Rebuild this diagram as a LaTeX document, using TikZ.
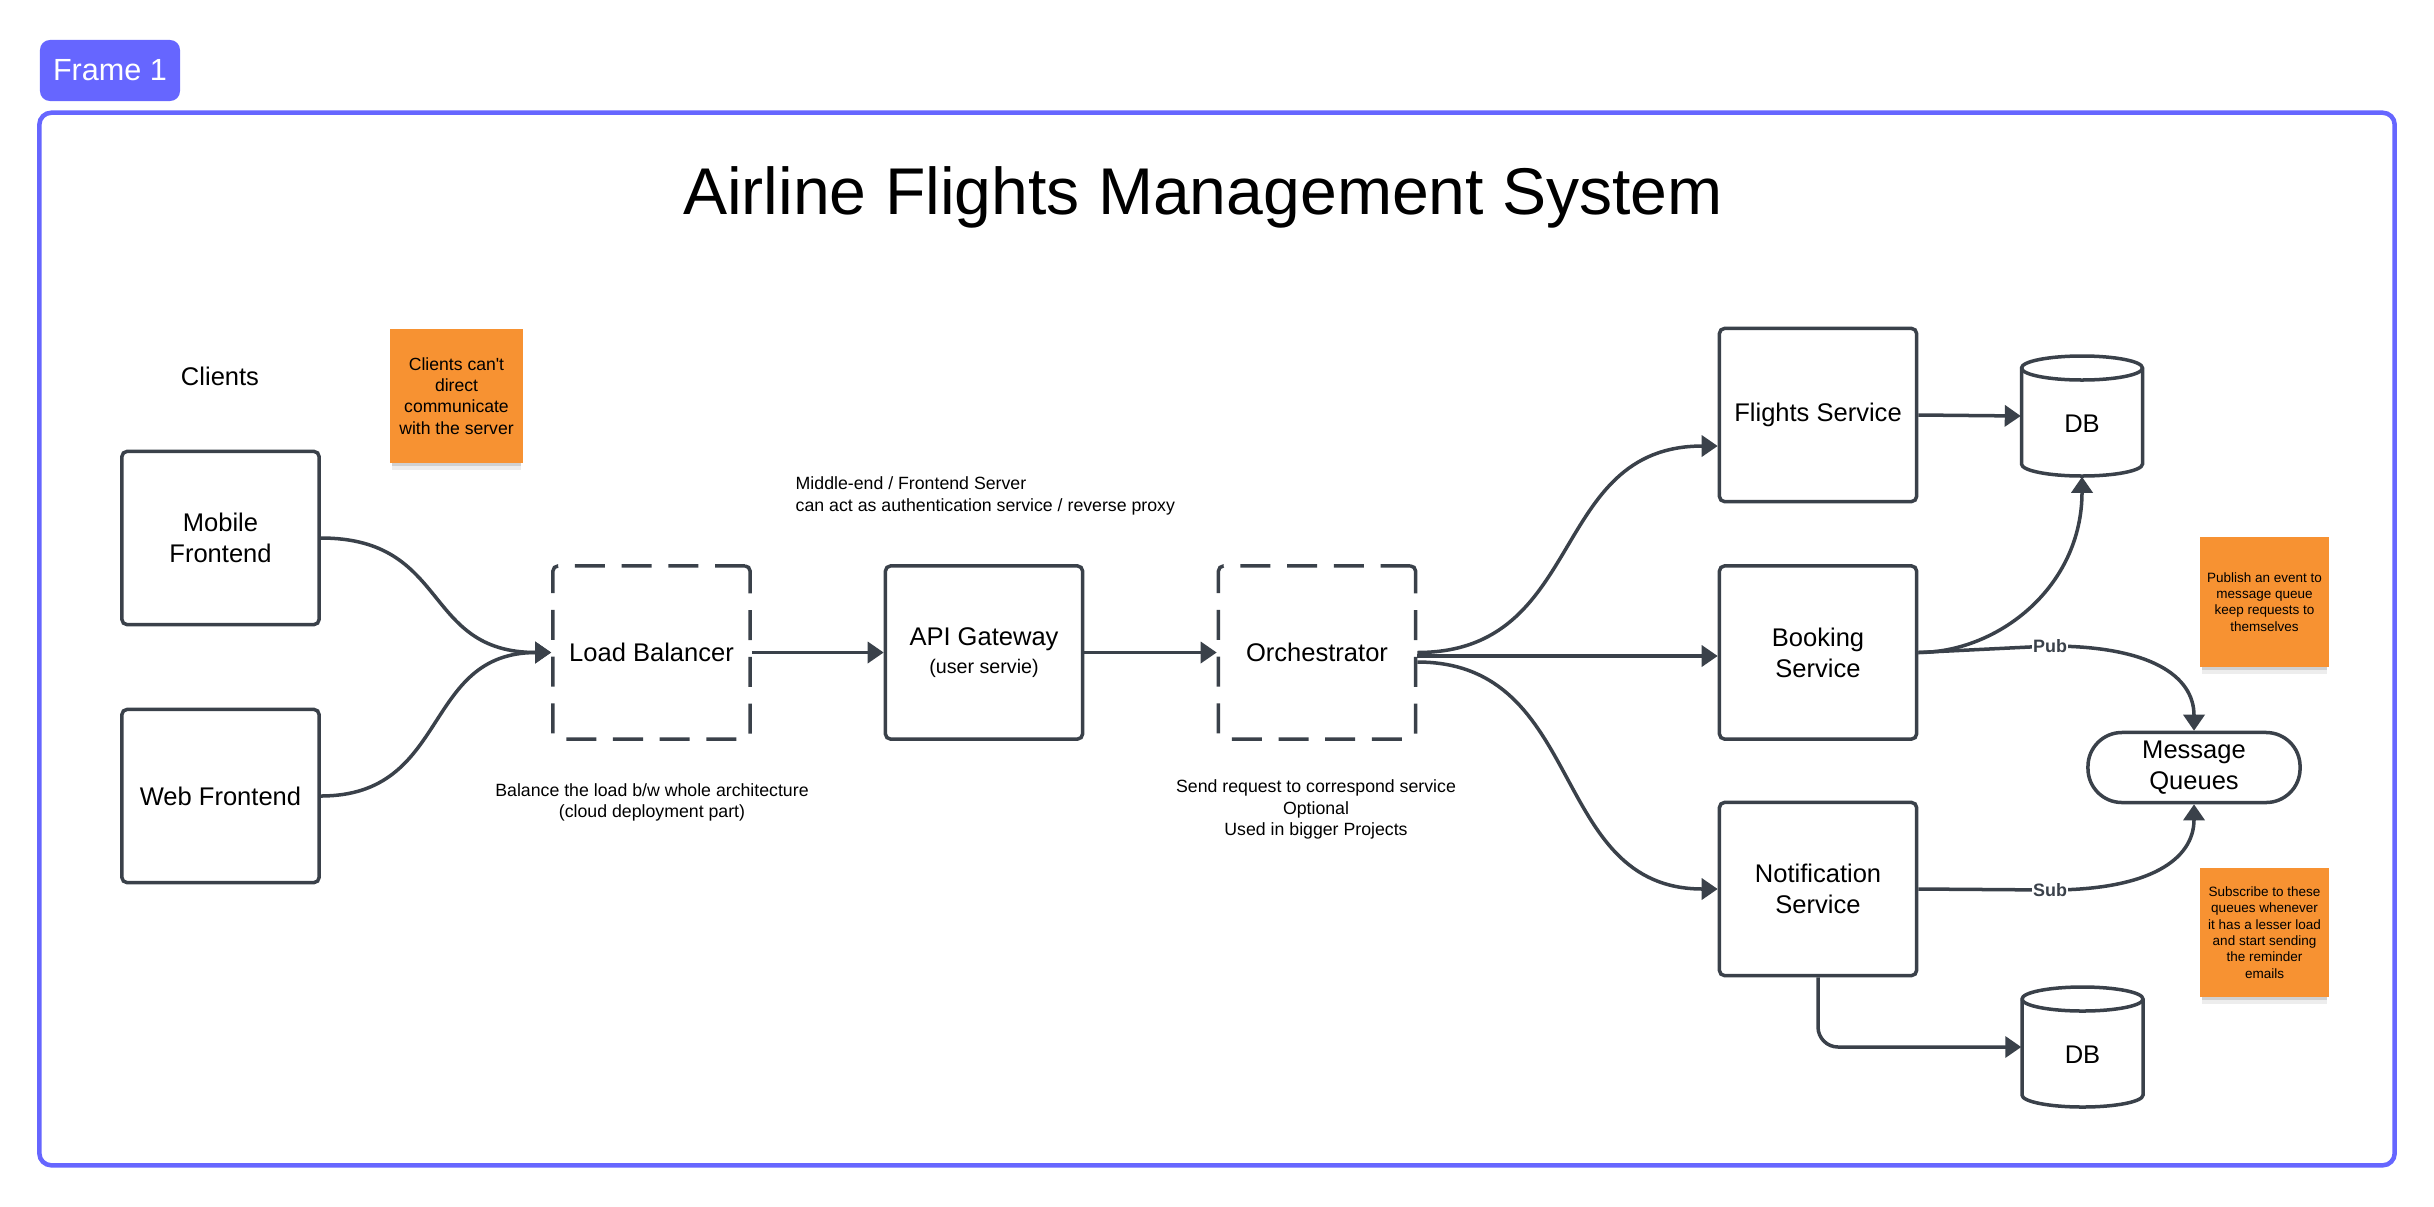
\documentclass[tikz,border=0pt]{standalone}
\usepackage{fontspec}
\setmainfont{Liberation Sans}
\usetikzlibrary{arrows.meta,shadows,calc}
\definecolor{lc}{HTML}{3A414A}
\definecolor{framec}{HTML}{6666FF}
\definecolor{stickyc}{HTML}{F79232}
\newcommand\FMain{\fontsize{7.26}{8.82}\selectfont}
\newcommand\FTitle{\fontsize{18.8}{22}\selectfont}
\newcommand\FFrame{\fontsize{8.7}{10}\selectfont}
\newcommand\FSmall{\fontsize{5.04}{6.12}\selectfont}
\newcommand\FUser{\fontsize{5.6}{6.5}\selectfont}
\newcommand\FStickA{\fontsize{5.0}{6.06}\selectfont}
\newcommand\FStickB{\fontsize{3.84}{4.64}\selectfont}
\newcommand\FLbl{\fontsize{5.1}{5.8}\selectfont\bfseries}
\newcommand\DrawCyl[2]{%
  \draw[ln, fill=white] ({#1-60.5},{-#2+48}) -- ({#1-60.5},{-#2-48})
    arc[start angle=180,end angle=360,x radius=60.5,y radius=12]
    -- ({#1+60.5},{-#2+48})
    arc[start angle=0,end angle=180,x radius=60.5,y radius=12] -- cycle;
  \draw[ln] ({#1-60.5},{-#2+48}) arc[start angle=180,end angle=360,x radius=60.5,y radius=12];}
\begin{document}
\begin{tikzpicture}[x=0.01cm,y=0.01cm,
  ln/.style={draw=lc, line width=0.035cm},
  box/.style={ln, rounded corners=0.05cm, minimum width=1.97cm, minimum height=1.73cm,
    align=center, font=\FMain, inner sep=0pt},
  dbox/.style={box, dash pattern=on 0.3cm off 0.167cm},
  arr/.style={draw=lc, line width=0.035cm, -{Triangle[length=0.16cm,width=0.21cm]}},
  dbshape/.style={minimum width=1.21cm, minimum height=1.2cm, inner sep=0pt},
  mqbox/.style={ln, rounded corners=0.34cm, minimum width=2.12cm, minimum height=0.7cm,
    align=center, font=\FMain, inner sep=0pt},
  sticky/.style={fill=stickyc, align=center, inner sep=0pt,
    general shadow={fill=black, opacity=0.07, shadow yshift=-0.09cm, shadow scale=0.97},
    general shadow={fill=black, opacity=0.12, shadow yshift=-0.05cm, shadow scale=0.97}},
  lbl/.style={fill=white, inner sep=0.01cm, font=\FLbl, text=lc},
  small/.style={font=\FSmall, inner sep=0pt}
]
\useasboundingbox (0,0) rectangle (2434,-1206);

% frame
\node[draw=framec, line width=0.045cm, rounded corners=0.12cm, minimum width=23.54cm,
  minimum height=10.52cm, inner sep=0pt] (frame) at (1217,-639) {};
\node[fill=framec, rounded corners=0.1cm, minimum width=1.40cm, minimum height=0.61cm,
  text=white, font=\FFrame, inner sep=0pt] (framelbl) at (110,-70.5) {Frame 1};

\node[font=\FTitle] (title) at (1203,-197) {Airline Flights Management System};

% clients
\node[font=\FMain] (clients) at (220,-376) {Clients};
\node[sticky, minimum width=1.33cm, minimum height=1.34cm, font=\FStickA] (note1) at (456.5,-396)
  {Clients can\textquotesingle t\\direct\\communicate\\with the server};
\node[box] (mobile) at (220.5,-538) {Mobile\\Frontend};
\node[box] (web) at (220.5,-796) {Web Frontend};

% middle
\node[dbox] (lb) at (651.5,-652.5) {Load Balancer};
\node[box] (api) at (984,-652.5) {API Gateway\\[-1pt]{\FUser (user servie)}};
\node[dbox] (orch) at (1317,-652.5) {Orchestrator};

\node[small, align=left, anchor=west] (mwtext) at (795,-496)
  {Middle-end / Frontend Server\\can act as authentication service / reverse proxy};
\node[small, align=center] (lbtext) at (652,-802.5)
  {Balance the load b/w whole architecture\\(cloud deployment part)};
\node[small, align=center] (orchtext) at (1316,-809.5)
  {Send request to correspond service\\Optional\\Used in bigger Projects};

% services
\node[box] (flights) at (1818,-415) {Flights Service};
\node[box] (booking) at (1818,-652.5) {Booking\\Service};
\node[box] (notif) at (1818,-889) {Notification\\Service};

% databases
\DrawCyl{2082}{416}
\node[dbshape, label={[font=\FMain, yshift=-0.08cm]center:DB}] (db1) at (2082,-416) {};
\DrawCyl{2082.5}{1047}
\node[dbshape, label={[font=\FMain, yshift=-0.08cm]center:DB}] (db2) at (2082.5,-1047) {};

% message queues
\node[mqbox] (mq) at (2194,-767.5) {Message\\Queues};

\node[sticky, minimum width=1.29cm, minimum height=1.30cm, font=\FStickB] (note2) at (2264.5,-602)
  {Publish an event to\\message queue\\keep requests to\\themselves};
\node[sticky, minimum width=1.29cm, minimum height=1.29cm, font=\FStickB] (note3) at (2264.5,-932.5)
  {Subscribe to these\\queues whenever\\it has a lesser load\\and start sending\\the reminder\\emails};

% connectors
\draw[arr] (mobile.east) .. controls +(130,0) and +(-130,0) .. (lb.west);
\draw[arr] (web.east) .. controls +(130,0) and +(-130,0) .. (lb.west);
\draw[arr] (lb.east) -- (api.west);
\draw[arr] (api.east) -- (orch.west);
\draw[arr] (orch.east) .. controls +(170,0) and +(-170,0) .. ([yshift=-0.31cm]flights.west);
\draw[arr] ([yshift=-0.035cm]orch.east) -- ([yshift=-0.035cm]booking.west);
\draw[arr] ([yshift=-0.095cm]orch.east) .. controls +(170,0) and +(-170,0) .. (notif.west);
\draw[arr] (flights.east) -- (db1.west);
\draw[arr] (booking.east) .. controls +(80,0) and +(0,-110) .. (db1.south);
\coordinate (pub) at (2050,-646);
\coordinate (sub) at (2050,-890);
\draw[arr] (booking.east) -- (pub) .. controls +(100,0) and +(0,55) .. (mq.north);
\draw[arr] (notif.east) -- (sub) .. controls +(100,0) and +(0,-55) .. (mq.south);
\node[lbl] (publbl) at (pub) {Pub};
\node[lbl] (sublbl) at (sub) {Sub};
\draw[arr, rounded corners=0.2cm] (notif.south) |- (db2.west);
\end{tikzpicture}
\end{document}
